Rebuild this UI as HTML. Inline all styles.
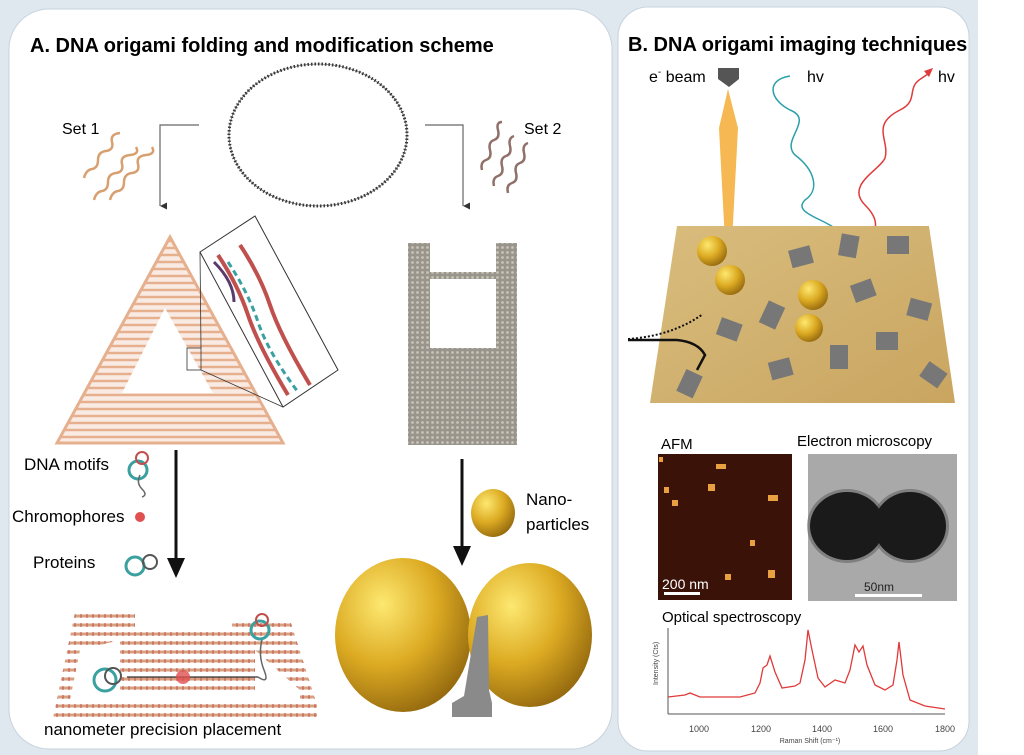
<!DOCTYPE html>
<html><head><meta charset="utf-8"><style>
body{margin:0;background:#fff;width:1024px;height:755px;overflow:hidden}
svg{display:block}
text{font-family:"Liberation Sans",sans-serif}
</style></head><body>
<svg width="1024" height="755" viewBox="0 0 1024 755">
<defs>
<radialGradient id="gold" cx="0.35" cy="0.3" r="0.8">
<stop offset="0" stop-color="#fde870"/><stop offset="0.5" stop-color="#dcaa22"/><stop offset="1" stop-color="#8a600c"/>
</radialGradient>
<linearGradient id="surf" x1="0" y1="0" x2="1" y2="1">
<stop offset="0" stop-color="#d9bd7e"/><stop offset="1" stop-color="#c9a560"/>
</linearGradient>
<pattern id="lat" width="8" height="7" patternUnits="userSpaceOnUse">
<line x1="0" y1="3" x2="8" y2="3" stroke="#e6b08f" stroke-width="2.5"/>
</pattern>
<pattern id="lat2" width="6" height="9" patternUnits="userSpaceOnUse">
<line x1="0" y1="4" x2="6" y2="4" stroke="#d9a080" stroke-width="3"/><line x1="3" y1="2" x2="3" y2="6" stroke="#c0504d" stroke-width="1"/>
</pattern>
<pattern id="mesh" width="5" height="5" patternUnits="userSpaceOnUse">
<rect width="5" height="5" fill="#9a958c"/><circle cx="2.5" cy="2.5" r="1.4" fill="#c8c3b8"/>
</pattern>
<marker id="ah" markerWidth="8" markerHeight="8" refX="4" refY="6" orient="auto"><path d="M1,0 L4,6 L7,0" fill="#333"/></marker>
</defs>
<rect width="978" height="755" fill="#dfe7ef"/>
<rect x="978" width="46" height="755" fill="#fff"/>
<rect x="9" y="9" width="603" height="740" rx="40" fill="#fff" stroke="#c8d3de"/>
<rect x="618" y="7" width="351" height="744" rx="30" fill="#fff" stroke="#c8d3de"/>

<!-- Panel A -->
<text x="30" y="52" font-size="20" font-weight="bold">A. DNA origami folding and modification scheme</text>
<ellipse cx="318" cy="135" rx="89" ry="71" fill="none" stroke="#333" stroke-width="3" stroke-dasharray="1.5 2"/>
<ellipse cx="318" cy="135" rx="89" ry="71" fill="none" stroke="#444" stroke-width="0.6"/>
<text x="62" y="134" font-size="16">Set 1</text>
<text x="524" y="134" font-size="16">Set 2</text>
<g stroke="#d8a070" stroke-width="2.5" fill="none">
<path d="M84,178 q2,-8 8,-9 t6,-9 t8,-9 t6,-9 t8,-9"/>
<path d="M94,200 q2,-8 8,-9 t6,-9 t8,-9 t6,-9 t8,-9 t6,-8"/>
<path d="M110,200 q2,-8 8,-9 t6,-9 t8,-9 t6,-9 t8,-9 t6,-8"/>
</g>
<g stroke="#907068" stroke-width="2.5" fill="none">
<path d="M482,170 q-2,-8 4,-10 t4,-10 t4,-10 t4,-10 t4,-8"/>
<path d="M494,186 q-2,-8 4,-10 t4,-10 t4,-10 t4,-10 t4,-10"/>
<path d="M508,193 q-2,-8 4,-10 t4,-10 t4,-10 t4,-10 t4,-10"/>
</g>
<path d="M199,125 H160 V206" fill="none" stroke="#666" stroke-width="1.2" marker-end="url(#ah)"/>
<path d="M425,125 H463 V206" fill="none" stroke="#666" stroke-width="1.2" marker-end="url(#ah)"/>
<!-- triangle -->
<path d="M170,237 L283,443 L57,443 Z M165,308 L213,393 L122,393 Z" fill="url(#lat)" fill-rule="evenodd"/>
<path d="M170,237 L283,443 L57,443 Z" fill="none" stroke="#e6b08f" stroke-width="3"/>
<path d="M170,237 L283,443 L57,443 Z M165,308 L213,393 L122,393 Z" fill="#e6b08f" fill-opacity="0.25" fill-rule="evenodd"/>
<rect x="187" y="348" width="14" height="22" fill="none" stroke="#333" stroke-width="0.8"/>
<path d="M201,348 L200,252 M201,370 L283,407" stroke="#333" stroke-width="0.8"/>
<path d="M200,252 L255,216 L338,370 L283,407 Z" fill="#fff" stroke="#333"/>
<path d="M218,255 q20,30 30,60 t40,80 M240,245 q20,30 30,60 t40,80" stroke="#c0504d" stroke-width="4" fill="none"/>
<path d="M228,262 q20,30 30,60 t40,70" stroke="#3aa0a0" stroke-width="3" fill="none" stroke-dasharray="6 4"/>
<path d="M214,262 q20,20 20,40" stroke="#5a3a6a" stroke-width="3" fill="none"/>
<!-- U mesh -->
<path d="M408,243 H430 V348 H496 V243 H517 V445 H408 Z" fill="url(#mesh)"/>
<rect x="430" y="272" width="66" height="7" fill="url(#mesh)"/>
<!-- arrows -->
<line x1="176" y1="450" x2="176" y2="560" stroke="#111" stroke-width="3"/>
<path d="M167,558 L185,558 L176,578 Z" fill="#111"/>
<line x1="462" y1="459" x2="462" y2="548" stroke="#111" stroke-width="3"/>
<path d="M453,546 L471,546 L462,566 Z" fill="#111"/>
<text x="24" y="470" font-size="17">DNA motifs</text>
<text x="12" y="522" font-size="17">Chromophores</text>
<text x="33" y="568" font-size="17">Proteins</text>
<circle cx="138" cy="470" r="9" fill="none" stroke="#3aa0a0" stroke-width="3"/>
<circle cx="142" cy="458" r="6" fill="none" stroke="#c0504d" stroke-width="2"/>
<path d="M140,475 q-4,8 2,14 t0,8" stroke="#666" stroke-width="1.5" fill="none"/>
<circle cx="140" cy="517" r="5" fill="#e05050"/>
<circle cx="135" cy="566" r="9" fill="none" stroke="#3aa0a0" stroke-width="3"/>
<circle cx="150" cy="562" r="7" fill="none" stroke="#555" stroke-width="2"/>
<!-- bottom lattice -->
<path d="M75,613 H135 V632 H232 V620 H290 L317,705 V718 H53 Z M80,650 L120,640 V690 H255 V650 L300,690 V700 H70 Z" fill="url(#lat2)" fill-rule="evenodd"/>
<line x1="127" y1="677" x2="258" y2="677" stroke="#333" stroke-width="1.2"/>
<circle cx="183" cy="677" r="7" fill="#e05050" opacity="0.8"/>
<circle cx="105" cy="680" r="11" fill="none" stroke="#3aa0a0" stroke-width="3"/>
<circle cx="113" cy="676" r="8" fill="none" stroke="#555" stroke-width="2"/>
<circle cx="260" cy="630" r="9" fill="none" stroke="#3aa0a0" stroke-width="3"/>
<circle cx="262" cy="620" r="6" fill="none" stroke="#c0504d" stroke-width="2"/>
<path d="M262,640 q-4,15 2,30 t-6,7" stroke="#666" stroke-width="1.5" fill="none"/>
<text x="44" y="735" font-size="17">nanometer precision placement</text>
<!-- particles -->
<ellipse cx="493" cy="513" rx="22" ry="24" fill="url(#gold)"/>
<text x="526" y="505" font-size="17">Nano-</text>
<text x="526" y="530" font-size="17">particles</text>
<ellipse cx="403" cy="635" rx="68" ry="77" fill="url(#gold)"/>
<ellipse cx="530" cy="635" rx="62" ry="72" fill="url(#gold)"/>
<path d="M477,617 L488,615 L489,690 L492,703 V717 H452 V703 L464,696 Z" fill="#8a8a8a"/>

<!-- Panel B -->
<text x="628" y="51" font-size="20" font-weight="bold">B. DNA origami imaging techniques</text>
<text x="649" y="82" font-size="16">e<tspan font-size="10" dy="-7">-</tspan><tspan dy="7"> beam</tspan></text>
<path d="M718,68 H739 V79 L729,87 L718,79 Z" fill="#555"/>
<path d="M728,89 L738,128 L731,261 L726,261 L719,128 Z" fill="#f5b040" opacity="0.9"/>
<text x="807" y="82" font-size="16">hv</text>
<text x="938" y="82" font-size="16">hv</text>
<path d="M790,76 C765,80 770,100 790,110 C815,120 780,140 795,155 C815,170 820,190 805,200 C790,215 835,220 840,235 L847,246" fill="none" stroke="#2aa0a8" stroke-width="1.5"/>
<path d="M858,239 C880,236 880,220 865,205 C845,185 880,170 885,158 C890,140 870,125 900,110 C920,100 905,88 922,78 L928,74" fill="none" stroke="#e03a3a" stroke-width="1.5"/>
<path d="M924,71 L933,68 L929,77 Z" fill="#e03a3a"/>
<path d="M677,226 L929,226 L955,403 L650,403 Z" fill="url(#surf)"/>
<g fill="#777">
<rect x="790" y="248" width="22" height="18" transform="rotate(-15 800 257)"/>
<rect x="840" y="235" width="18" height="22" transform="rotate(10 850 245)"/>
<rect x="887" y="236" width="22" height="18"/>
<rect x="852" y="282" width="22" height="18" transform="rotate(-20 862 290)"/>
<rect x="908" y="300" width="22" height="18" transform="rotate(15 918 310)"/>
<rect x="763" y="303" width="18" height="24" transform="rotate(25 772 315)"/>
<rect x="718" y="320" width="22" height="18" transform="rotate(20 728 330)"/>
<rect x="876" y="332" width="22" height="18"/>
<rect x="830" y="345" width="18" height="24"/>
<rect x="770" y="360" width="22" height="18" transform="rotate(-15 780 370)"/>
<rect x="922" y="365" width="22" height="18" transform="rotate(35 932 375)"/>
<rect x="680" y="372" width="18" height="24" transform="rotate(25 690 385)"/>
</g>
<circle cx="712" cy="251" r="15" fill="url(#gold)"/>
<circle cx="730" cy="280" r="15" fill="url(#gold)"/>
<circle cx="813" cy="295" r="15" fill="url(#gold)"/>
<circle cx="809" cy="328" r="14" fill="url(#gold)"/>
<path d="M628,340 H677 Q698,342 705,355 L697,370" fill="none" stroke="#111" stroke-width="2.5"/>
<path d="M628,339 Q672,336 703,314" fill="none" stroke="#111" stroke-width="2" stroke-dasharray="2 2"/>
<text x="661" y="449" font-size="15">AFM</text>
<text x="797" y="446" font-size="15">Electron microscopy</text>
<rect x="658" y="454" width="134" height="146" fill="#3a1208"/>
<g fill="#e8a040"><rect x="716" y="464" width="10" height="5"/><rect x="664" y="487" width="5" height="6"/><rect x="708" y="484" width="7" height="7"/><rect x="768" y="495" width="10" height="6"/><rect x="672" y="500" width="6" height="6"/><rect x="750" y="540" width="5" height="6"/><rect x="725" y="574" width="6" height="6"/><rect x="768" y="570" width="7" height="8"/><rect x="659" y="457" width="4" height="5"/></g>
<text x="662" y="589" font-size="14" fill="#fff">200 nm</text>
<rect x="664" y="592" width="36" height="3" fill="#fff"/>
<rect x="808" y="454" width="149" height="147" fill="#a9a9a9"/>
<ellipse cx="847" cy="526" rx="40" ry="37" fill="#555" opacity="0.5"/>
<ellipse cx="910" cy="526" rx="39" ry="37" fill="#555" opacity="0.5"/>
<ellipse cx="847" cy="526" rx="37" ry="34" fill="#1a1a1a"/>
<ellipse cx="910" cy="526" rx="36" ry="34" fill="#1a1a1a"/>
<rect x="855" y="594" width="67" height="3" fill="#fff"/>
<text x="864" y="591" font-size="12" fill="#222">50nm</text>
<text x="662" y="622" font-size="15">Optical spectroscopy</text>
<line x1="668" y1="628" x2="668" y2="714" stroke="#555"/>
<line x1="668" y1="714" x2="945" y2="714" stroke="#555"/>
<text transform="translate(658,685) rotate(-90)" font-size="7" fill="#444">Intensity (Cts)</text>
<g font-size="9" fill="#444" text-anchor="middle"><text x="699" y="732">1000</text><text x="761" y="732">1200</text><text x="822" y="732">1400</text><text x="883" y="732">1600</text><text x="945" y="732">1800</text></g>
<text x="810" y="743" font-size="7" fill="#444" text-anchor="middle">Raman Shift (cm⁻¹)</text>
<path d="M668,697 L685,695 L690,693 L700,697 L740,697 L755,693 L760,683 L763,668 L767,665 L770,656 L775,672 L782,688 L795,686 L800,683 L805,660 L808,630 L812,650 L818,678 L825,687 L835,680 L845,683 L850,670 L855,645 L859,652 L863,646 L867,665 L875,685 L885,690 L893,685 L897,660 L899,642 L903,675 L910,700 L925,706 L945,709" fill="none" stroke="#e03a3a" stroke-width="1.3"/>
</svg>
</body></html>
